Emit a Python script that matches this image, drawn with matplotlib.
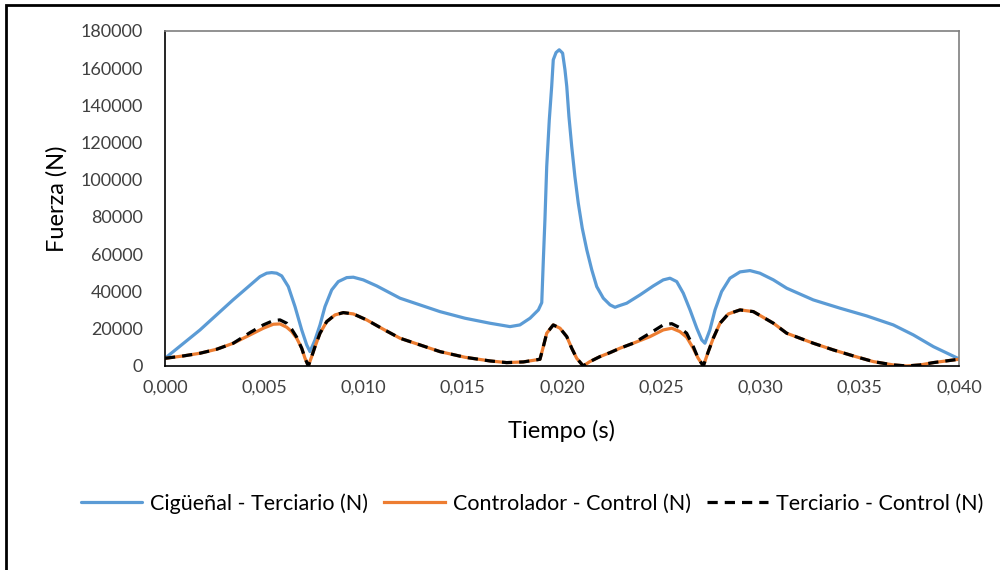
import matplotlib
matplotlib.use("Agg")
import matplotlib.pyplot as plt
from matplotlib.patches import Rectangle
from matplotlib.ticker import FuncFormatter, MultipleLocator

# Time (s) and force (N) for the crankshaft - tertiary link
t_cig = [0.0, 0.00176, 0.00343, 0.004786, 0.005123, 0.005375, 0.005627, 0.005879,
         0.006212, 0.006549, 0.006887, 0.007139, 0.007305, 0.007557, 0.007809, 0.00806,
         0.008398, 0.00873, 0.009154, 0.009486, 0.00999, 0.010665, 0.011839, 0.01259,
         0.01385, 0.01511, 0.01637, 0.01738, 0.01788, 0.01839, 0.01881, 0.01898,
         0.01906, 0.01914, 0.01923, 0.01936, 0.01948, 0.01956, 0.0197, 0.01986,
         0.02003, 0.02015, 0.02024, 0.02035, 0.02049, 0.02065, 0.02082, 0.02102,
         0.02125, 0.0215, 0.02175, 0.02208, 0.02242, 0.02267, 0.02284, 0.02326,
         0.02393, 0.0246, 0.0251, 0.02544, 0.02578, 0.02611, 0.02645, 0.02679,
         0.02704, 0.0272, 0.02745, 0.02771, 0.02804, 0.02846, 0.02897, 0.02947,
         0.02997, 0.03065, 0.03132, 0.03266, 0.03401, 0.03535, 0.03669, 0.0377,
         0.03871, 0.040]
f_cig = [4100, 19300, 35500, 47980, 49810, 50130, 49810, 48360,
         42610, 31860, 19340, 11280, 7680, 13970, 22030, 31860,
         40830, 45290, 47440, 47660, 46210, 42980, 36380, 33690,
         29180, 25630, 22940, 21120, 22030, 25630, 30090, 34010,
         56950, 78450, 107100, 132200, 150100, 164400, 168300, 169800,
         168000, 159000, 150100, 133900, 117800, 101700, 87400, 74000,
         62300, 51600, 42600, 36400, 32800, 31500, 32200, 33690,
         38150, 42980, 46210, 47120, 45290, 39060, 30090, 20260,
         13970, 12200, 19340, 30090, 39920, 47120, 50510, 51210,
         49810, 46210, 41750, 35460, 31000, 26870, 22030, 16660,
         10370, 3800]

# Controller - control link
t_ctrl = [0.0, 0.000922, 0.001763, 0.002604, 0.003441, 0.004282, 0.004952, 0.005456,
          0.005793, 0.006131, 0.006383, 0.006635, 0.006887, 0.007053, 0.007221, 0.007389,
          0.007557, 0.007809, 0.008146, 0.008564, 0.008982, 0.009486, 0.010161, 0.010997,
          0.011839, 0.01259, 0.01385, 0.01511, 0.01637, 0.01721, 0.01805, 0.01889,
          0.01906, 0.01923, 0.01956, 0.0199, 0.02024, 0.02049, 0.02074, 0.02107,
          0.0214, 0.02191, 0.02242, 0.02292, 0.02359, 0.02443, 0.0251, 0.02553,
          0.02594, 0.02628, 0.02661, 0.02686, 0.02712, 0.02737, 0.02762, 0.02796,
          0.02838, 0.02897, 0.02964, 0.03065, 0.03132, 0.03266, 0.03367, 0.03468,
          0.03569, 0.03669, 0.03737, 0.03804, 0.03871, 0.040]
f_ctrl = [4100, 5370, 6820, 8970, 12200, 16660, 20240, 22390,
          22570, 20790, 18450, 14870, 9510, 4120, 0, 5000,
          10370, 17570, 23800, 27400, 28640, 27940, 24720, 19720,
          14880, 12200, 7700, 4660, 2690, 1790, 2150, 3580,
          10370, 17570, 22030, 20260, 15740, 9510, 4120, 0,
          2310, 5000, 7150, 9510, 12200, 15740, 19340, 20260,
          18430, 15420, 9510, 4120, 0, 7680, 14880, 22940,
          27940, 30090, 29180, 22940, 17570, 12200, 8600, 5370,
          2310, 540, 0, 540, 1790, 3600]

# Tertiary - control link
t_terc = [0.0, 0.000922, 0.001763, 0.002604, 0.003441, 0.004282, 0.004952, 0.005456,
          0.005793, 0.006131, 0.006383, 0.006635, 0.006887, 0.007053, 0.007221, 0.007389,
          0.007557, 0.007809, 0.008146, 0.008564, 0.008982, 0.009486, 0.010161, 0.010997,
          0.011839, 0.01259, 0.01385, 0.01511, 0.01637, 0.01721, 0.01805, 0.01889,
          0.01906, 0.01923, 0.01956, 0.0199, 0.02024, 0.02049, 0.02074, 0.02107,
          0.0214, 0.02191, 0.02242, 0.02292, 0.02359, 0.02443, 0.0251, 0.02553,
          0.02594, 0.02628, 0.02661, 0.02686, 0.02712, 0.02737, 0.02762, 0.02796,
          0.02838, 0.02897, 0.02964, 0.03065, 0.03132, 0.03266, 0.03367, 0.03468,
          0.03569, 0.03669, 0.03737, 0.03804, 0.03871, 0.040]
f_terc = [4100, 5370, 6820, 8970, 12200, 17900, 22030, 24350,
          24720, 22930, 19720, 15420, 9510, 4120, 0, 5000,
          10370, 17570, 23800, 27400, 28640, 27940, 24720, 19720,
          14880, 12200, 7700, 4660, 2690, 1790, 2150, 3580,
          10370, 17570, 22030, 20260, 15740, 9510, 4120, 0,
          2310, 5000, 7150, 9510, 12200, 17570, 22030, 22700,
          20500, 17570, 10500, 4120, 0, 7680, 14880, 22940,
          27940, 30090, 29180, 22940, 17570, 12200, 8600, 5370,
          2310, 540, 0, 540, 1790, 3600]

x_ticks = [0.000, 0.005, 0.010, 0.015, 0.020, 0.025, 0.030, 0.035, 0.040]
labels = ["Cigüeñal - Terciario (N)", "Controlador - Control (N)",
          "Terciario - Control (N)"]

plt.rcParams["font.family"] = ["Lato", "DejaVu Sans"]

fig = plt.figure(figsize=(10, 5.7), dpi=100)
ax = fig.add_axes([0.165, 0.358, 0.794, 0.588])

ax.plot(t_cig, f_cig, color="#5B9BD5", lw=2.3, label=labels[0],
        solid_joinstyle="round", solid_capstyle="round")
ax.plot(t_ctrl, f_ctrl, color="#ED7D31", lw=2.3, label=labels[1],
        solid_joinstyle="round")
ax.plot(t_terc, f_terc, color="black", lw=2.3, ls=(0, (3.2, 2.2)),
        label=labels[2])

ax.set_xlim(0, 0.040)
ax.set_ylim(0, 180000)
ax.set_xticks(x_ticks)
ax.yaxis.set_major_locator(MultipleLocator(20000))
ax.xaxis.set_major_formatter(FuncFormatter(lambda v, p: f"{v:.3f}".replace(".", ",")))
ax.yaxis.set_major_formatter(FuncFormatter(lambda v, p: f"{v:.0f}"))
ax.tick_params(length=0, labelsize=13, colors="#404040")
ax.tick_params(axis="y", pad=16)
ax.tick_params(axis="x", pad=10)

for side in ("top", "right"):
    ax.spines[side].set_color("#7f7f7f")
    ax.spines[side].set_linewidth(1.2)
for side in ("left", "bottom"):
    ax.spines[side].set_color("black")
    ax.spines[side].set_linewidth(1.2)

ax.set_xlabel("Tiempo (s)", fontsize=17, labelpad=17)
ax.set_ylabel("Fuerza (N)", fontsize=17, labelpad=9)

fig.legend(loc="center", bbox_to_anchor=(0.532, 0.117), ncol=3, frameon=False,
           fontsize=15.5, handlelength=2.85, handletextpad=0.35,
           columnspacing=0.75)

# outer chart-area frame
fig.add_artist(Rectangle((0.006, -0.05), 1.2, 1.05 - 5 / 570,
                         transform=fig.transFigure, fill=False,
                         edgecolor="black", lw=2, clip_on=False))

fig.savefig("out.png", dpi=100)
